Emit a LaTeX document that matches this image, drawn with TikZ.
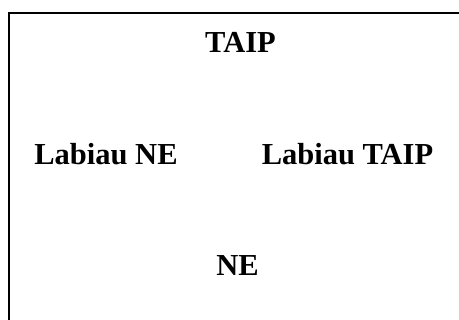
\documentclass[tikz,border=0pt]{standalone}
\usepackage{fontspec}
\setmainfont{Liberation Serif}
\begin{document}
\begin{tikzpicture}[x=1pt,y=1pt,
  lbl/.style={anchor=base,inner sep=0pt,font=\fontsize{30.5}{36}\selectfont\bfseries}]
\useasboundingbox (0,0) rectangle (459,320);
\clip (0,0) rectangle (459,320);
\draw[line width=1.6pt] (9,-10) -- (9,307) -- (470,307);
\node[lbl] (taip) at (240.5,267) {TAIP};
\node[lbl] (lne) at (106,155) {Labiau NE};
\node[lbl] (ltaip) at (347.5,155) {Labiau TAIP};
\node[lbl] (ne) at (237.5,44) {NE};
\end{tikzpicture}
\end{document}
